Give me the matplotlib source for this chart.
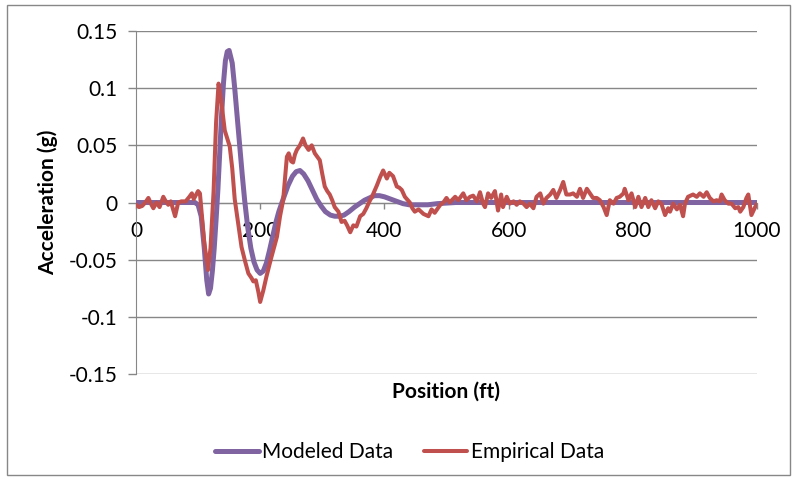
import matplotlib
matplotlib.use('Agg')
import matplotlib.pyplot as plt
from matplotlib.ticker import FuncFormatter
from matplotlib.patches import Rectangle

# DATA ------------------------------------------------------------------------
modeled_x = [0, 95, 100, 105, 110, 114, 117, 120, 123, 126, 129, 132, 135, 138,
             141, 144, 147, 150, 155, 159, 163, 167, 171, 175, 180, 185, 190,
             195, 200, 205, 210, 215, 220, 225, 230, 237, 245, 252, 258, 264,
             270, 277, 284, 291, 298, 305, 313, 320, 328, 335, 343, 352, 360,
             368, 376, 384, 392, 400, 410, 420, 430, 440, 455, 470, 485, 500,
             515, 1000]
modeled_y = [0, 0, -0.002, -0.012, -0.040, -0.068, -0.080, -0.075, -0.060,
             -0.040, -0.015, 0.012, 0.045, 0.078, 0.105, 0.124, 0.132, 0.133,
             0.122, 0.100, 0.075, 0.050, 0.025, 0.002, -0.022, -0.040, -0.052,
             -0.059, -0.062, -0.060, -0.053, -0.042, -0.030, -0.018, -0.008,
             0.003, 0.015, 0.023, 0.027, 0.028, 0.025, 0.019, 0.011, 0.003,
             -0.003, -0.008, -0.011, -0.012, -0.012, -0.011, -0.008, -0.004,
             -0.001, 0.002, 0.004, 0.006, 0.006, 0.005, 0.003, 0.001, -0.001,
             -0.002, -0.002, -0.002, -0.001, -0.0005, 0, 0]

empirical_x = [0, 5, 10, 15, 20, 25, 28, 33, 38, 44, 48, 52, 56, 63, 68, 73,
               80, 86, 90, 93, 97, 100, 103, 106, 110, 116, 120, 125, 129, 133,
               137, 143, 147, 151, 155, 159, 165, 170, 176, 181, 186, 189, 193,
               197, 200, 205, 210, 217, 224, 227, 232, 237, 243, 246, 250, 253,
               256, 259, 264, 269, 273, 278, 283, 288, 292, 296, 300, 304, 308,
               312, 316, 320, 326, 331, 336, 340, 345, 350, 355, 361, 366, 371,
               376, 380, 384, 388, 393, 398, 404, 408, 414, 420, 424, 428, 433,
               441, 445, 449, 455, 463, 471, 476, 481, 490, 495, 500, 505, 514,
               519, 527, 532, 538, 543, 549, 554, 559, 562, 567, 572, 578, 583,
               588, 591, 597, 602, 608, 613, 618, 624, 629, 634, 640, 645, 651,
               656, 661, 667, 672, 677, 683, 688, 693, 699, 704, 710, 715, 720,
               726, 731, 736, 742, 747, 753, 758, 763, 769, 774, 779, 785, 787,
               793, 798, 804, 809, 814, 820, 825, 830, 836, 841, 846, 852, 857,
               860, 865, 871, 876, 881, 884, 889, 897, 903, 908, 914, 919, 924,
               930, 935, 940, 943, 948, 954, 959, 965, 970, 973, 978, 983, 986,
               991, 997, 1000]
empirical_y = [-0.002, -0.004, -0.003, 0.000, 0.004, -0.002, -0.005, 0.000,
               -0.004, 0.005, 0.001, -0.002, 0.001, -0.012, 0.000, 0.001, 0.001,
               0.005, 0.008, 0.003, 0.007, 0.010, 0.008, -0.010, -0.035, -0.059,
               -0.040, 0.010, 0.070, 0.104, 0.090, 0.063, 0.056, 0.049, 0.030,
               0.003, -0.020, -0.039, -0.052, -0.062, -0.066, -0.069, -0.068,
               -0.078, -0.087, -0.077, -0.065, -0.050, -0.036, -0.030, -0.012,
               0.002, 0.040, 0.043, 0.036, 0.035, 0.042, 0.046, 0.050, 0.056,
               0.050, 0.046, 0.050, 0.043, 0.040, 0.037, 0.025, 0.014, 0.010,
               0.007, 0.002, -0.004, -0.008, -0.017, -0.016, -0.020, -0.026,
               -0.020, -0.021, -0.012, -0.010, -0.005, 0.001, 0.005, 0.010,
               0.015, 0.022, 0.028, 0.021, 0.026, 0.023, 0.014, 0.013, 0.011,
               0.005, 0.000, -0.005, -0.008, -0.006, -0.010, -0.012, -0.006,
               -0.009, -0.002, 0.000, 0.004, 0.000, 0.005, 0.002, 0.008, 0.002,
               0.005, 0.006, 0.001, 0.009, -0.001, -0.004, 0.008, 0.004, 0.010,
               -0.007, 0.007, -0.004, 0.005, -0.001, 0.001, -0.002, 0.001,
               -0.001, -0.004, -0.001, -0.005, 0.005, 0.008, -0.001, 0.004,
               0.007, 0.011, 0.004, 0.011, 0.018, 0.007, 0.007, 0.008, 0.005,
               0.012, 0.004, 0.012, 0.008, 0.004, 0.004, 0.002, -0.004, -0.011,
               0.002, -0.001, 0.004, 0.005, 0.008, 0.012, 0.002, 0.008, -0.004,
               0.005, -0.004, 0.004, -0.004, 0.002, -0.005, 0.001, -0.001,
               -0.011, -0.005, -0.008, -0.001, -0.006, -0.002, -0.012, -0.001,
               0.005, 0.007, 0.005, 0.008, 0.005, 0.009, 0.004, 0.001, 0.002,
               0.001, 0.007, 0.002, -0.001, -0.001, -0.005, -0.004, -0.008,
               -0.004, 0.004, 0.007, -0.011, -0.004, -0.001]

x_ticks = [0, 200, 400, 600, 800, 1000]
y_ticks = [-0.15, -0.1, -0.05, 0, 0.05, 0.1, 0.15]

# STYLE -----------------------------------------------------------------------
plt.rcParams['font.family'] = ['Lato', 'DejaVu Sans']
fs = 15
grey = '#878787'
purple = '#8064A2'
red = '#C0504D'

fig = plt.figure(figsize=(7.97, 4.80), dpi=100)
ax = fig.add_axes([0.1706, 0.2208, 0.7792, 0.7146])

# outer chart frame
fig.patches.append(Rectangle((0.009, 0.01), 0.982, 0.979, transform=fig.transFigure,
                             fill=False, edgecolor=grey, linewidth=1.0))

for y in y_ticks:
    ax.axhline(y, color=grey, linewidth=1.0, zorder=1)

ax.plot(modeled_x, modeled_y, color=purple, linewidth=3.6, label='Modeled Data',
        solid_capstyle='round', zorder=3)
ax.plot(empirical_x, empirical_y, color=red, linewidth=2.9, label='Empirical Data',
        solid_joinstyle='round', solid_capstyle='round', zorder=4)

ax.set_xlim(0, 1000)
ax.set_ylim(-0.15, 0.15)
ax.set_xticks(x_ticks)
ax.set_yticks(y_ticks)
ax.yaxis.set_major_formatter(FuncFormatter(lambda v, p: '0' if abs(v) < 1e-9 else '%g' % v))

for s in ['top', 'right']:
    ax.spines[s].set_visible(False)
ax.spines['left'].set_color(grey)
ax.spines['bottom'].set_color(grey)
ax.spines['bottom'].set_position(('data', 0))
ax.spines['bottom'].set_zorder(2)

ax.tick_params(axis='y', length=6, width=1, color=grey, pad=7, labelsize=fs)
ax.tick_params(axis='x', length=4, width=1, color=grey, pad=9, labelsize=fs)

ax.set_xlabel('Position (ft)', fontsize=fs, fontweight='bold')
ax.xaxis.set_label_coords(0.5, -0.022)
ax.set_ylabel('Acceleration (g)', fontsize=fs, fontweight='bold')
ax.yaxis.set_label_coords(-0.126, 0.5)

fig.legend(loc='center', bbox_to_anchor=(0.514, 0.058), ncol=2, frameon=False,
           fontsize=fs, handlelength=2.1, handletextpad=0.15, columnspacing=1.45)

plt.savefig('out.png', dpi=100)
